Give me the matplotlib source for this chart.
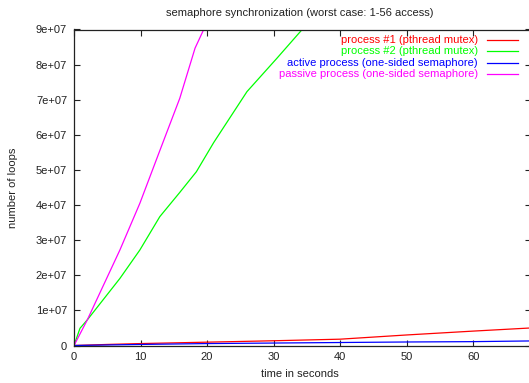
import matplotlib
matplotlib.use("Agg")
import matplotlib.pyplot as plt

plt.rcParams['font.family'] = ['Liberation Sans', 'DejaVu Sans']
plt.rcParams['font.size'] = 8

# time (s) / loop counts
t_mutex1 = [0, 5, 10, 20, 30, 40, 45, 50, 60, 68.7]
mutex1 = [0, 0.3e6, 0.55e6, 0.95e6, 1.35e6, 1.8e6, 2.4e6, 3.0e6, 4.1e6, 5.0e6]

t_mutex2 = [0, 0.9, 2.0, 6.9, 9.9, 12.9, 15.9, 18.4, 21.0, 26.0, 30.5, 34.3, 36.0]
mutex2 = [0, 4.9e6, 7.3e6, 19.1e6, 27.2e6, 36.7e6, 43.6e6, 49.5e6, 57.8e6,
          72.3e6, 81.8e6, 90.0e6, 94.0e6]

t_active = [0, 10, 20, 30, 40, 50, 60, 68.7]
active = [0, 0.3e6, 0.55e6, 0.7e6, 0.85e6, 1.0e6, 1.1e6, 1.3e6]

t_passive = [0, 2.0, 6.9, 9.9, 12.9, 15.9, 18.2, 19.5, 20.5]
passive = [0, 7.3e6, 27.2e6, 40.5e6, 55.5e6, 70.4e6, 84.7e6, 90.0e6, 94.5e6]

labels = ['process #1 (pthread mutex)', 'process #2 (pthread mutex)',
          'active process (one-sided semaphore)', 'passive process (one-sided semaphore)']
colors = ['#ff0000', '#00ff00', '#0000ff', '#ff00ff']

fig = plt.figure(figsize=(5.29, 3.83), dpi=100)
ax = fig.add_axes([74 / 529, 1 - 345.5 / 383, (531 - 74) / 529, (345.5 - 29.5) / 383])

series = [(t_mutex1, mutex1), (t_mutex2, mutex2), (t_active, active), (t_passive, passive)]
for (t, v), lab, c in zip(series, labels, colors):
    ax.plot(t, v, color=c, lw=0.9, label=lab)

ax.set_xlim(0, 68.7)
ax.set_ylim(0, 9e7)
ax.set_xticks(range(0, 70, 10))
ax.set_yticks([i * 1e7 for i in range(10)])
ax.set_yticklabels(['0'] + ['%de+07' % i for i in range(1, 10)])
ax.tick_params(direction='in', length=4, width=0.8, top=True, right=True,
               labelsize=8, colors='#222222', pad=5)
for s in ax.spines.values():
    s.set_linewidth(0.9)
    s.set_color('#222222')

fig.text(299.5 / 529, 1 - 13 / 383, 'semaphore synchronization (worst case: 1-56 access)',
         ha='center', va='center', fontsize=8, color='#222222')
fig.text(300 / 529, 1 - 374 / 383, 'time in seconds', ha='center', va='center',
         fontsize=8, color='#222222')
fig.text(13.5 / 529, 1 - 188 / 383, 'number of loops', ha='center', va='center',
         rotation=90, fontsize=8, color='#222222')

# gnuplot style key: right aligned text, sample line to the right
for i, (lab, c) in enumerate(zip(labels, colors)):
    y = 1 - (40 + 11.4 * i) / 383
    fig.text(478 / 529, y, lab, ha='right', va='center', fontsize=8, color=c)
    fig.add_artist(plt.Line2D([487 / 529, 518 / 529], [y, y], color=c, lw=0.9))

fig.savefig('out.png', dpi=100)
